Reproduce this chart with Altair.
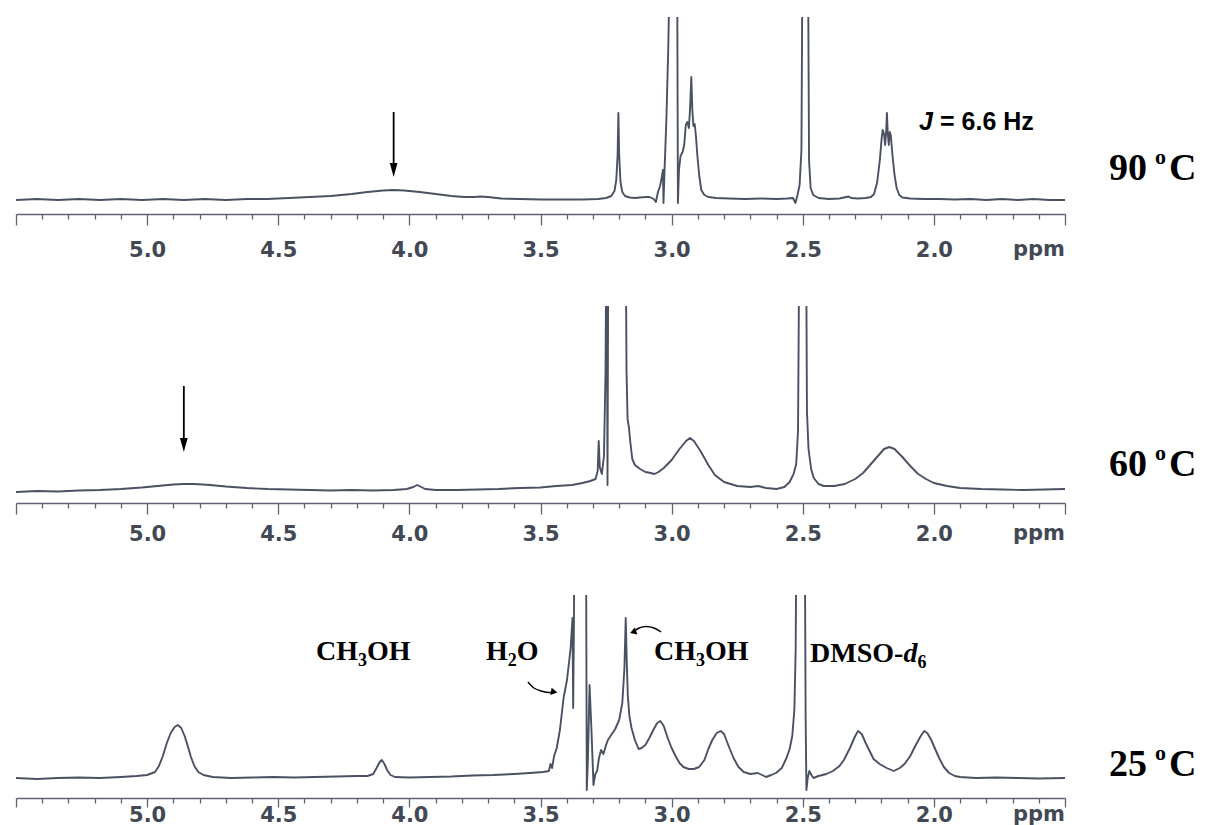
import altair as alt
import pandas as pd

# ---------------- values ----------------
# (chemical shift in ppm, signal height above the baseline in arbitrary units)
spectrum_90 = [
    (5.50, 0), (5.42, 1), (5.34, 0), (5.26, 1), (5.18, 0), (5.10, 1), (5.02, 0), (4.94, 1), (4.86, 0), (4.78, 1),
    (4.70, 0), (4.62, 1), (4.54, 1), (4.46, 2), (4.38, 3), (4.30, 4), (4.22, 6), (4.16, 8), (4.10, 9.5), (4.06, 10),
    (4.02, 9.5), (3.96, 8), (3.90, 6), (3.84, 4), (3.79, 3), (3.75, 3), (3.73, 3.5), (3.70, 3), (3.65, 1.5), (3.58, 1),
    (3.50, 0.5), (3.42, 0.5), (3.34, 0.5), (3.28, 1), (3.25, 2), (3.23, 4), (3.218, 9), (3.211, 20), (3.206, 45), (3.203, 87),
    (3.200, 45), (3.195, 18), (3.188, 8), (3.178, 4), (3.16, 2.5), (3.14, 2), (3.12, 2.5), (3.10, 3), (3.085, 3), (3.068, 1),
    (3.060, -2), (3.052, 8), (3.044, 14), (3.038, 22), (3.033, 30), (3.031, -3), (3.027, 30), (3.020, 80), (3.013, 150), (3.006, 250),
    (2.990, 400), (2.979, 250), (2.976, -3), (2.972, 30), (2.966, 44), (2.958, 48), (2.952, 55), (2.946, 75), (2.940, 78), (2.934, 72),
    (2.929, 95), (2.925, 123), (2.921, 90), (2.917, 74), (2.912, 76), (2.907, 63), (2.902, 45), (2.895, 25), (2.887, 10), (2.875, 5),
    (2.86, 3), (2.83, 2), (2.78, 1.5), (2.72, 1), (2.66, 1.5), (2.60, 1), (2.56, 1.5), (2.537, 2), (2.528, -3), (2.520, 5),
    (2.512, 15), (2.505, 50), (2.500, 300), (2.490, 500), (2.481, 300), (2.476, 40), (2.470, 12), (2.460, 5), (2.44, 2), (2.40, 1),
    (2.36, 1.5), (2.335, 3), (2.325, 3.5), (2.315, 2), (2.29, 1.5), (2.26, 2), (2.24, 3), (2.228, 6), (2.216, 18), (2.206, 40),
    (2.199, 62), (2.195, 70), (2.190, 66), (2.186, 55), (2.182, 68), (2.179, 87), (2.176, 68), (2.172, 55), (2.168, 68), (2.164, 64),
    (2.158, 45), (2.150, 25), (2.142, 12), (2.132, 5), (2.12, 2.5), (2.09, 1.5), (2.04, 1), (1.98, 1), (1.92, 0.5), (1.86, 1),
    (1.80, 0), (1.74, 1), (1.68, 0), (1.62, 1), (1.56, 0), (1.50, 0),
]

spectrum_60 = [
    (5.50, -1), (5.42, 0), (5.34, -0.5), (5.26, 0.5), (5.18, 1), (5.10, 2), (5.02, 3.5), (4.96, 5), (4.90, 6.5), (4.86, 7),
    (4.82, 7), (4.76, 6), (4.70, 4.5), (4.62, 3), (4.54, 2), (4.46, 1.5), (4.38, 1), (4.30, 0.5), (4.22, 1), (4.14, 0.5),
    (4.06, 1), (4.01, 2), (3.985, 4), (3.970, 6), (3.955, 4), (3.94, 2), (3.90, 1), (3.82, 1), (3.74, 1.5), (3.66, 2),
    (3.58, 3), (3.50, 3.5), (3.44, 5), (3.38, 6), (3.34, 8), (3.31, 10), (3.29, 12), (3.282, 20), (3.278, 50), (3.274, 24),
    (3.266, 17), (3.258, 35), (3.252, 120), (3.248, 300), (3.2445, 6), (3.241, 300), (3.23, 400), (3.20, 450), (3.176, 300), (3.172, 120),
    (3.168, 72), (3.163, 64), (3.158, 50), (3.150, 32), (3.140, 26), (3.12, 22), (3.10, 19), (3.08, 18), (3.065, 17), (3.05, 19),
    (3.03, 23), (3.00, 31), (2.97, 42), (2.945, 50), (2.93, 53), (2.915, 50), (2.89, 40), (2.86, 26), (2.835, 16), (2.80, 9),
    (2.75, 5), (2.70, 4), (2.67, 5), (2.64, 3), (2.60, 2), (2.57, 4), (2.55, 9), (2.535, 17), (2.525, 27), (2.518, 60),
    (2.512, 300), (2.50, 500), (2.488, 300), (2.484, 80), (2.478, 42), (2.468, 22), (2.458, 13), (2.44, 7), (2.42, 5), (2.38, 5),
    (2.34, 7), (2.30, 12), (2.27, 18), (2.24, 27), (2.21, 36), (2.19, 42), (2.17, 44), (2.15, 42), (2.12, 34), (2.09, 25),
    (2.06, 17), (2.03, 12), (2.00, 8), (1.95, 5), (1.90, 3), (1.82, 2), (1.74, 1.5), (1.66, 1), (1.58, 1.5), (1.50, 2),
]

spectrum_25 = [
    (5.50, 0), (5.42, -1), (5.34, 0), (5.26, 0.5), (5.18, 0), (5.10, 1), (5.04, 2), (5.00, 3), (4.97, 6), (4.955, 12),
    (4.94, 22), (4.925, 35), (4.91, 45), (4.895, 51), (4.883, 53), (4.87, 50), (4.857, 42), (4.845, 32), (4.833, 21), (4.82, 12),
    (4.805, 6), (4.785, 3), (4.75, 1), (4.68, 0), (4.60, 0.5), (4.52, 1), (4.44, 0.5), (4.36, 1), (4.28, 1.5), (4.20, 2),
    (4.16, 2), (4.138, 4), (4.125, 10), (4.113, 16), (4.105, 18), (4.095, 14), (4.085, 8), (4.072, 3), (4.055, 1), (4.00, 0.5),
    (3.92, 1), (3.84, 1.5), (3.76, 2.5), (3.68, 3), (3.60, 4), (3.54, 5), (3.49, 6), (3.468, 7), (3.462, 14), (3.456, 10),
    (3.448, 22), (3.438, 30), (3.426, 48), (3.412, 80), (3.399, 98), (3.385, 130), (3.378, 160), (3.3755, 70), (3.373, 140), (3.369, 300),
    (3.35, 400), (3.327, 300), (3.3235, -12), (3.319, 20), (3.313, 93), (3.306, 50), (3.298, -7), (3.291, 4), (3.284, 7), (3.277, 20),
    (3.269, 28), (3.26, 24), (3.25, 33), (3.243, 38), (3.228, 44), (3.215, 49), (3.20, 58), (3.188, 75), (3.180, 110), (3.175, 160),
    (3.171, 115), (3.167, 82), (3.161, 62), (3.153, 50), (3.14, 38), (3.126, 29), (3.115, 30), (3.10, 33), (3.085, 40), (3.07, 48),
    (3.055, 55), (3.043, 57), (3.03, 52), (3.015, 40), (3.00, 30), (2.985, 22), (2.97, 15), (2.955, 11), (2.935, 9), (2.915, 9),
    (2.895, 11), (2.875, 18), (2.86, 29), (2.845, 38), (2.828, 45), (2.813, 47), (2.80, 44), (2.79, 37), (2.778, 29), (2.762, 19),
    (2.745, 11), (2.725, 6), (2.70, 4), (2.672, 5), (2.655, 3), (2.64, 1), (2.62, 3), (2.602, 5), (2.58, 10), (2.562, 20),
    (2.55, 29), (2.54, 42), (2.532, 68), (2.527, 128), (2.523, 300), (2.505, 450), (2.493, 300), (2.489, 60), (2.486, -12), (2.481, 0),
    (2.475, 7), (2.467, 3), (2.459, 0), (2.44, 2), (2.41, 4), (2.385, 7), (2.36, 12), (2.343, 18), (2.32, 30), (2.30, 42),
    (2.289, 47), (2.275, 44), (2.26, 35), (2.245, 27), (2.23, 19), (2.207, 14), (2.18, 10), (2.153, 7), (2.13, 10), (2.112, 14),
    (2.09, 22), (2.071, 32), (2.05, 42), (2.037, 47), (2.025, 45), (2.01, 38), (2.00, 32), (1.98, 20), (1.962, 11), (1.942, 5),
    (1.92, 2), (1.90, 1), (1.84, 0), (1.76, 0.5), (1.68, 0), (1.60, -0.5), (1.50, 0),
]

major_ticks = [5.5, 5.0, 4.5, 4.0, 3.5, 3.0, 2.5, 2.0, 1.5]
minor_ticks = [5.4, 5.3, 5.2, 5.1, 4.9, 4.8, 4.7, 4.6, 4.4, 4.3, 4.2, 4.1, 3.9, 3.8, 3.7, 3.6,
               3.4, 3.3, 3.2, 3.1, 2.9, 2.8, 2.7, 2.6, 2.4, 2.3, 2.2, 2.1, 1.9, 1.8, 1.7, 1.6]
unit_label = "ppm"
temperatures = ["90", "60", "25"]
coupling_text = ["J", "= 6.6 Hz"]

# arrows marking the broad exchanging signal: (ppm, arrow top, arrow tip)
arrow_90 = (4.06, 88, 23)
arrow_60 = (4.86, 105, 39)

# assignments in the 25 °C spectrum
assign_labels = [["CH", "3", "OH"], ["H", "2", "O"], ["CH", "3", "OH"], ["DMSO-", "d", "6"]]
assign_roles = [["n", "s", "n"], ["n", "s", "n"], ["n", "s", "n"], ["n", "i", "s"]]
assign_ppm = [4.356, 3.708, 3.067, 2.472]
assign_int = [118, 118, 118, 116]
curve_h2o = [(3.548, 96), (3.525, 90), (3.498, 87), (3.468, 85.5), (3.448, 86)]
curve_meoh = [(3.040, 146), (3.067, 150), (3.098, 151.5), (3.124, 150), (3.147, 146)]

# ---------------- styling ----------------
W = 1049
TRACE = "#4a5163"
AXC = "#5d6371"
LBC = "#424854"
ARROW_DOWN = "M -0.55 -1 L 0.55 -1 L 0 1 Z"
SERIF_W = {"C": .722, "H": .778, "O": .778, "D": .722, "M": .944, "S": .556, "-": .333,
           "d": .5, "2": .5, "3": .5, "6": .5}
LABEL_SIZE = 21


def xenc(axis=None):
    return alt.X("ppm:Q", scale=alt.Scale(domain=[1.5, 5.5], reverse=True, nice=False, zero=False),
                 axis=axis, title=None)


def yenc(field, dom):
    return alt.Y(f"{field}:Q", scale=alt.Scale(domain=dom, nice=False, zero=False), axis=None, title=None)


def major_axis(pad, tick):
    return alt.Axis(orient="bottom", values=major_ticks, title=None, grid=False,
                    tickSize=tick, tickWidth=1.3, tickColor=AXC, domainColor=AXC, domainWidth=1.3,
                    labelExpr="datum.value > 5.45 || datum.value < 1.55 ? '' : format(datum.value, '.1f')",
                    labelFont="DejaVu Sans", labelFontWeight="bold", labelFontSize=LABEL_SIZE, labelColor=LBC,
                    labelPadding=pad, labelOverlap=False, labelFlush=False, labelBound=False)


def minor_axis():
    return alt.Axis(orient="bottom", values=minor_ticks, title=None, grid=False, domain=False,
                    labels=False, tickSize=5, tickWidth=1.3, tickColor=AXC)


def text_px(txt, x, y, size, font="Liberation Serif", style="normal", align="left",
            color="black", baseline="alphabetic"):
    return alt.Chart(pd.DataFrame({"t": [txt]})).mark_text(
        align=align, baseline=baseline, font=font, fontSize=size, fontWeight="bold",
        fontStyle=style, color=color
    ).encode(x=alt.value(x), y=alt.value(y), text="t:N")


def temp_label(t, base):
    return [text_px(t, 1093, base, 38),
            text_px("o", 1139, base - 16, 22),
            text_px("C", 1153, base, 38)]


def unit_text(H, pad, tick):
    return text_px(unit_label, W, H + tick + pad, LABEL_SIZE, font="DejaVu Sans", color=LBC,
                   align="right", baseline="top")


def vertical_arrow(spec, dom):
    ppm, top, tip = spec
    d = pd.DataFrame({"ppm": [ppm], "top": [top], "end": [tip + 10], "head": [tip + 7]})
    rule = alt.Chart(d).mark_rule(color="black", strokeWidth=1.8).encode(
        x=xenc(), y=yenc("top", dom), y2="end:Q")
    head = alt.Chart(d).mark_point(shape=ARROW_DOWN, size=196, filled=True, color="black",
                                   opacity=1, strokeWidth=0).encode(x=xenc(), y=yenc("head", dom))
    return [rule, head]


def panel(spec, H, dom, pad, tick, extras):
    df = pd.DataFrame(spec, columns=["ppm", "I"])
    trace = alt.Chart(df).mark_line(color=TRACE, strokeWidth=1.9, clip=True, strokeJoin="round").encode(
        x=xenc(major_axis(pad, tick)), y=yenc("I", dom))
    minor = alt.Chart(df).mark_line(opacity=0, clip=True).encode(x=xenc(minor_axis()), y=yenc("I", dom))
    return alt.layer(trace, minor, *extras).resolve_axis(x="independent").properties(width=W, height=H)


# ---------------- panel 1 : 90 °C ----------------
H1, D1, P1, T1 = 197, [-14, 183], 14, 11
extras1 = vertical_arrow(arrow_90, D1)
extras1 += [text_px(coupling_text[0], 903, 113, 25, font="Liberation Sans", style="italic"),
            text_px(coupling_text[1], 924, 113, 25, font="Liberation Sans")]
extras1 += temp_label(temperatures[0], 163)
extras1.append(unit_text(H1, P1, T1))
p1 = panel(spectrum_90, H1, D1, P1, T1, extras1)

# ---------------- panel 2 : 60 °C ----------------
H2, D2, P2, T2 = 197, [-12, 185], 9, 11
extras2 = vertical_arrow(arrow_60, D2)
extras2 += temp_label(temperatures[1], 170)
extras2.append(unit_text(H2, P2, T2))
p2 = panel(spectrum_60, H2, D2, P2, T2, extras2)

# ---------------- panel 3 : 25 °C ----------------
H3, D3, P3, T3 = 203, [-20, 183], -3, 9
extras3 = []
for pieces, roles, p, i in zip(assign_labels, assign_roles, assign_ppm, assign_int):
    dx = 0.0
    for txt, role in zip(pieces, roles):
        size = 18 if role == "s" else 28
        dy = 6 if role == "s" else 0
        style = "italic" if role == "i" else "normal"
        extras3.append(
            alt.Chart(pd.DataFrame({"ppm": [p], "I": [i], "t": [txt]})).mark_text(
                align="left", baseline="alphabetic", font="Liberation Serif", fontWeight="bold",
                fontStyle=style, fontSize=size, dx=dx, dy=dy, color="black"
            ).encode(x=xenc(), y=yenc("I", D3), text="t:N"))
        dx += sum(SERIF_W[c] for c in txt) * size

for curve, shape, ang in [(curve_h2o, "triangle-right", 10), (curve_meoh, "triangle-left", 340)]:
    cdf = pd.DataFrame(curve, columns=["ppm", "I"])
    extras3.append(alt.Chart(cdf).mark_line(color="black", strokeWidth=1.4, interpolate="cardinal").encode(
        x=xenc(), y=yenc("I", D3)))
    tip = cdf.iloc[[-1]]
    extras3.append(alt.Chart(tip).mark_point(shape=shape, size=55, filled=True, color="black",
                                             opacity=1, strokeWidth=0, angle=ang).encode(
        x=xenc(), y=yenc("I", D3)))

extras3 += temp_label(temperatures[2], 181)
extras3.append(unit_text(H3, P3, T3))
p3 = panel(spectrum_25, H3, D3, P3, T3, extras3)

chart = alt.vconcat(p1, p2, p3, spacing=92, bounds="flush").properties(
    padding={"left": 7, "top": 9, "right": 2, "bottom": 0}
).configure_view(stroke=None)

chart.save("out.html", embed_options={"renderer": "svg", "actions": False})
